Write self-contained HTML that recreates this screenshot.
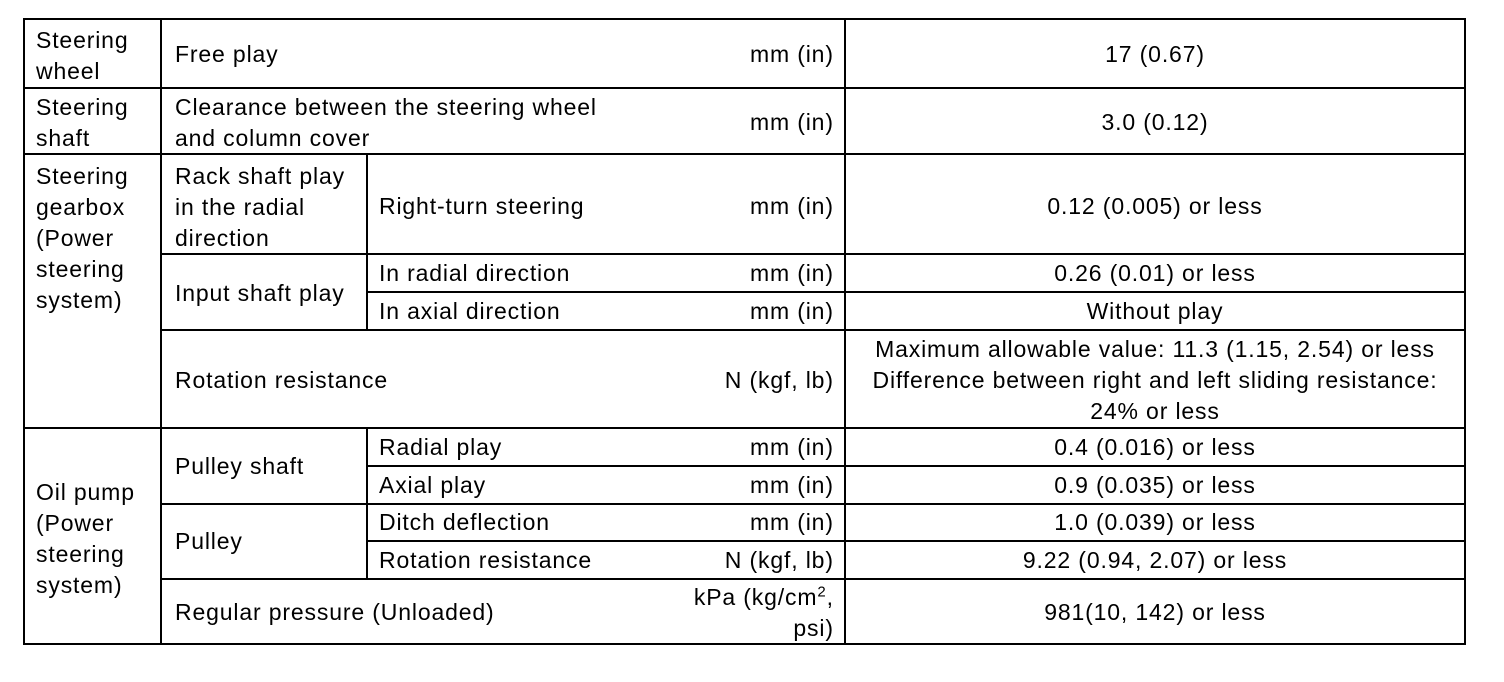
<!DOCTYPE html>
<html><head><style>
body{margin:0;width:1504px;height:682px;background:#fff;position:relative;overflow:hidden;font-family:"Liberation Sans",Arial,sans-serif;font-size:23px;letter-spacing:0.85px;color:#000}
.h{position:absolute;height:2px;background:#000}
.v{position:absolute;width:2px;background:#000}
.t{position:absolute;line-height:31px;white-space:nowrap}
.r{text-align:right;margin-right:-0.85px}
.c{text-align:center}
</style></head><body>
<div class="h" style="left:23px;top:18px;width:1443px"></div>
<div class="h" style="left:23px;top:643px;width:1443px"></div>
<div class="v" style="left:23px;top:18px;height:627px"></div>
<div class="v" style="left:1464px;top:18px;height:627px"></div>
<div class="v" style="left:160px;top:18px;height:627px"></div>
<div class="v" style="left:844px;top:18px;height:627px"></div>
<div class="v" style="left:366px;top:154px;height:176px"></div>
<div class="v" style="left:366px;top:428px;height:151px"></div>
<div class="h" style="left:23px;top:87px;width:1443px"></div>
<div class="h" style="left:23px;top:153px;width:1443px"></div>
<div class="h" style="left:23px;top:427px;width:1443px"></div>
<div class="h" style="left:160px;top:253px;width:1306px"></div>
<div class="h" style="left:366px;top:291px;width:1100px"></div>
<div class="h" style="left:160px;top:329px;width:1306px"></div>
<div class="h" style="left:366px;top:465px;width:1100px"></div>
<div class="h" style="left:160px;top:503px;width:1306px"></div>
<div class="h" style="left:366px;top:540px;width:1100px"></div>
<div class="h" style="left:160px;top:578px;width:1306px"></div>

<div class="t" style="left:36px;top:25px">Steering<br>wheel</div>
<div class="t" style="left:36px;top:92px">Steering<br>shaft</div>
<div class="t" style="left:36px;top:161px">Steering<br>gearbox<br>(Power<br>steering<br>system)</div>
<div class="t" style="left:36px;top:477px">Oil pump<br>(Power<br>steering<br>system)</div>

<div class="t" style="left:175px;top:39px">Free play</div>
<div class="t" style="left:175px;top:92px">Clearance between the steering wheel<br>and column cover</div>
<div class="t" style="left:175px;top:161px">Rack shaft play<br>in the radial<br>direction</div>
<div class="t" style="left:175px;top:278px">Input shaft play</div>
<div class="t" style="left:175px;top:365px">Rotation resistance</div>
<div class="t" style="left:175px;top:451px">Pulley shaft</div>
<div class="t" style="left:175px;top:526px">Pulley</div>
<div class="t" style="left:175px;top:597px">Regular pressure (Unloaded)</div>

<div class="t" style="left:379px;top:191px">Right-turn steering</div>
<div class="t" style="left:379px;top:258px">In radial direction</div>
<div class="t" style="left:379px;top:296px">In axial direction</div>
<div class="t" style="left:379px;top:432px">Radial play</div>
<div class="t" style="left:379px;top:470px">Axial play</div>
<div class="t" style="left:379px;top:507px">Ditch deflection</div>
<div class="t" style="left:379px;top:545px">Rotation resistance</div>

<div class="t r" style="right:671px;top:39px">mm (in)</div>
<div class="t r" style="right:671px;top:107px">mm (in)</div>
<div class="t r" style="right:671px;top:191px">mm (in)</div>
<div class="t r" style="right:671px;top:258px">mm (in)</div>
<div class="t r" style="right:671px;top:296px">mm (in)</div>
<div class="t r" style="right:671px;top:365px">N (kgf, lb)</div>
<div class="t r" style="right:671px;top:432px">mm (in)</div>
<div class="t r" style="right:671px;top:470px">mm (in)</div>
<div class="t r" style="right:671px;top:507px">mm (in)</div>
<div class="t r" style="right:671px;top:545px">N (kgf, lb)</div>
<div class="t r" style="right:671px;top:582px">kPa (kg/cm<sup style="font-size:15px;line-height:0">2</sup>,<br>psi)</div>

<div class="t c" style="left:846px;width:618px;top:39px">17 (0.67)</div>
<div class="t c" style="left:846px;width:618px;top:107px">3.0 (0.12)</div>
<div class="t c" style="left:846px;width:618px;top:191px">0.12 (0.005) or less</div>
<div class="t c" style="left:846px;width:618px;top:258px">0.26 (0.01) or less</div>
<div class="t c" style="left:846px;width:618px;top:296px">Without play</div>
<div class="t c" style="left:846px;width:618px;top:334px">Maximum allowable value: 11.3 (1.15, 2.54) or less<br>Difference between right and left sliding resistance:<br>24% or less</div>
<div class="t c" style="left:846px;width:618px;top:432px">0.4 (0.016) or less</div>
<div class="t c" style="left:846px;width:618px;top:470px">0.9 (0.035) or less</div>
<div class="t c" style="left:846px;width:618px;top:507px">1.0 (0.039) or less</div>
<div class="t c" style="left:846px;width:618px;top:545px">9.22 (0.94, 2.07) or less</div>
<div class="t c" style="left:846px;width:618px;top:597px">981(10, 142) or less</div>
</body></html>
